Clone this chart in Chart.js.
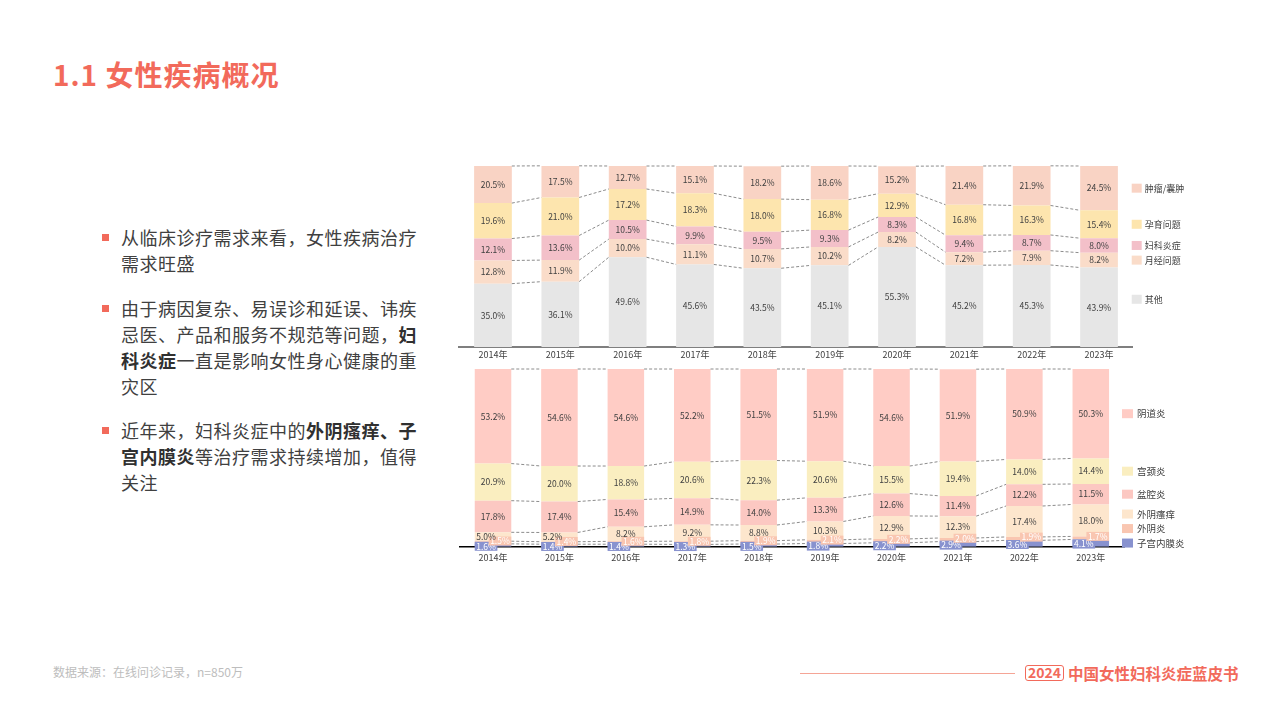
<!DOCTYPE html>
<html><head><meta charset="utf-8">
<script src="https://cdn.jsdelivr.net/npm/chart.js@4.4.1/dist/chart.umd.min.js"></script>
<style>
html,body{margin:0;padding:0;background:#fff;width:1280px;height:719px;overflow:hidden;font-family:"Noto Sans CJK SC","Noto Sans",sans-serif;}
.abs{position:absolute;}
.title{left:53px;top:56px;font-size:28px;font-weight:700;color:#F26A5B;line-height:36px;letter-spacing:1px;white-space:nowrap;}
.p{position:absolute;left:121px;font-size:18px;line-height:26px;letter-spacing:0.5px;color:#404040;white-space:nowrap;}
.p b{color:#303030;font-weight:700;}
.p::before{content:"";position:absolute;left:-19px;top:10px;width:6.5px;height:6.5px;background:#F26A5B;}
.src{left:53px;top:663px;font-size:12px;line-height:18px;color:#BDBDBD;}
.yr{left:1025px;top:665px;width:39px;height:16px;box-sizing:border-box;border:1.5px solid #F26A5B;border-radius:3px;font-size:14px;font-weight:700;line-height:13px;text-align:center;color:#F26A5B;}
.bk{left:1068px;top:663px;font-size:15.5px;font-weight:700;line-height:20px;color:#F26A5B;white-space:nowrap;}
canvas{position:absolute;}
</style>
</head>
<body>
<div class="abs title">1.1 女性疾病概况</div>

<div class="p" style="top:224px">从临床诊疗需求来看，女性疾病治疗<br>需求旺盛</div>
<div class="p" style="top:295px">由于病因复杂、易误诊和延误、讳疾<br>忌医、产品和服务不规范等问题，<b>妇</b><br><b>科炎症</b>一直是影响女性身心健康的重<br>灾区</div>
<div class="p" style="top:417px">近年来，妇科炎症中的<b>外阴瘙痒、子</b><br><b>宫内膜炎</b>等治疗需求持续增加，值得<br>关注</div>

<canvas id="top" width="750" height="206" style="left:450px;top:155px;width:750px;height:206px"></canvas>
<canvas id="bottom" width="750" height="206" style="left:450px;top:362px;width:750px;height:206px"></canvas>

<div class="abs src">数据来源：在线问诊记录，n=850万</div>
<div class="abs" style="left:800px;top:673px;width:215px;height:1px;background:#F5A596"></div>
<div class="abs yr">2024</div>
<div class="abs bk">中国女性妇科炎症蓝皮书</div>

<script>
const years = ['2014年','2015年','2016年','2017年','2018年','2019年','2020年','2021年','2022年','2023年'];

// Top chart (stack from bottom to top)
const others     = [35.0,36.1,49.6,45.6,43.5,45.1,55.3,45.2,45.3,43.9];
const menstrual  = [12.8,11.9,10.0,11.1,10.7,10.2, 8.2, 7.2, 7.9, 8.2];
const gynInflam  = [12.1,13.6,10.5, 9.9, 9.5, 9.3, 8.3, 9.4, 8.7, 8.0];
const fertility  = [19.6,21.0,17.2,18.3,18.0,16.8,12.9,16.8,16.3,15.4];
const tumor      = [20.5,17.5,12.7,15.1,18.2,18.6,15.2,21.4,21.9,24.5];

// Bottom chart (stack from bottom to top)
const endometritis = [1.6,1.4,1.4,1.3,1.5,1.8,2.2,2.9,3.6,4.1];
const vulvitis     = [1.5,1.4,1.6,1.8,1.9,2.1,2.2,2.0,1.9,1.7];
const pruritus     = [5.0,5.2,8.2,9.2,8.8,10.3,12.9,12.3,17.4,18.0];
const pelvic       = [17.8,17.4,15.4,14.9,14.0,13.3,12.6,11.4,12.2,11.5];
const cervicitis   = [20.9,20.0,18.8,20.6,22.3,20.6,15.5,19.4,14.0,14.4];
const vaginitis    = [53.2,54.6,54.6,52.2,51.5,51.9,54.6,51.9,50.9,50.3];

const FONT = '"Noto Sans CJK SC","Noto Sans",sans-serif';

const connectors = {
  id:'connectors',
  afterDatasetsDraw(chart){
    const ctx = chart.ctx;
    ctx.save();
    ctx.strokeStyle = '#6e6e6e';
    ctx.lineWidth = 0.8;
    ctx.setLineDash([3,2]);
    chart.data.datasets.forEach((ds,d)=>{
      const meta = chart.getDatasetMeta(d);
      for(let i=0;i<meta.data.length-1;i++){
        const a = meta.data[i], b = meta.data[i+1];
        ctx.beginPath();
        ctx.moveTo(a.x + a.width/2, a.y);
        ctx.lineTo(b.x - b.width/2, b.y);
        ctx.stroke();
      }
    });
    ctx.restore();
  }
};

const valueLabels = {
  id:'valueLabels',
  afterDatasetsDraw(chart){
    const ctx = chart.ctx;
    ctx.save();
    ctx.font = '8.5px ' + FONT;
    ctx.textBaseline = 'middle';
    chart.data.datasets.forEach((ds,d)=>{
      const meta = chart.getDatasetMeta(d);
      meta.data.forEach((bar,i)=>{
        const v = ds.data[i];
        const txt = v.toFixed(1) + '%';
        const cy = (bar.y + bar.base)/2;
        const left = bar.x - bar.width/2, right = bar.x + bar.width/2;
        const w = ctx.measureText(txt).width;
        const mode = ds.labelMode || 'center';
        if(mode === 'boxLeft'){
          ctx.fillStyle = ds.backgroundColor;
          ctx.fillRect(left, cy + 1 - 4.5, w + 3, 9);
          ctx.fillStyle = '#ffffff';
          ctx.textAlign = 'left';
          ctx.fillText(txt, left + 1.5, cy + 1);
        } else if(mode === 'boxRight'){
          ctx.fillStyle = ds.backgroundColor;
          ctx.fillRect(right - w - 3, cy - 1.5 - 4.5, w + 3, 9);
          ctx.fillStyle = '#ffffff';
          ctx.textAlign = 'right';
          ctx.fillText(txt, right - 1.5, cy - 1.5);
        } else if(v < 6){
          ctx.fillStyle = '#404040';
          ctx.textAlign = 'left';
          ctx.fillText(txt, left + 1.5, cy);
        } else {
          ctx.fillStyle = '#404040';
          ctx.textAlign = 'center';
          ctx.fillText(txt, bar.x, cy);
        }
      });
    });
    ctx.restore();
  }
};

const sideLegend = {
  id:'sideLegend',
  afterDraw(chart, args, opts){
    const ctx = chart.ctx;
    const area = chart.chartArea;
    const n = chart.data.datasets.length;
    let prev = Infinity;
    ctx.save();
    ctx.font = opts.fontSize + 'px ' + FONT;
    ctx.textBaseline = 'middle';
    ctx.textAlign = 'left';
    for(let d=0; d<n; d++){
      const ds = chart.data.datasets[d];
      const meta = chart.getDatasetMeta(d);
      const bar = meta.data[meta.data.length-1];
      let c = (bar.y + bar.base)/2;
      if(d === 0 && opts.baseLift) c -= opts.baseLift;
      c = Math.min(c, prev - opts.gap);
      prev = c;
      const bx = area.right + opts.dx;
      ctx.fillStyle = ds.backgroundColor;
      ctx.fillRect(bx, c - opts.boxH/2, opts.boxW, opts.boxH);
      ctx.fillStyle = '#404040';
      ctx.fillText(ds.label, bx + opts.boxW + opts.textGap, c);
    }
    ctx.restore();
  }
};

function makeChart(id, datasets, cfg){
  return new Chart(document.getElementById(id), {
    type:'bar',
    data:{labels:years, datasets},
    plugins:[connectors, valueLabels, sideLegend],
    options:{
      responsive:false,
      animation:false,
      devicePixelRatio:1,
      layout:{padding:cfg.padding},
      datasets:{bar:{barPercentage:cfg.barPct, categoryPercentage:1, borderWidth:0}},
      plugins:{
        legend:{display:false},
        tooltip:{enabled:false},
        sideLegend:cfg.legend
      },
      scales:{
        x:{
          stacked:true,
          grid:{display:false, drawTicks:false},
          border:{color:cfg.axisColor, width:cfg.axisWidth},
          ticks:{padding:cfg.tickPad, color:'#404040', font:{size:9, family:FONT}, maxRotation:0, autoSkip:false},
          afterFit(s){ s.height = cfg.axisH; }
        },
        y:{stacked:true, display:false, min:0, max:100}
      }
    }
  });
}

makeChart('top', [
  {label:'其他',     data:others,    backgroundColor:'#E6E6E6'},
  {label:'月经问题', data:menstrual, backgroundColor:'#FADCC9'},
  {label:'妇科炎症', data:gynInflam, backgroundColor:'#F3C0C9'},
  {label:'孕育问题', data:fertility, backgroundColor:'#FDE5AE'},
  {label:'肿瘤/囊肿', data:tumor,    backgroundColor:'#F9D3C4'}
], {
  padding:{left:9.3, right:67.3, top:11, bottom:0},
  barPct:0.56, axisColor:'#7f7f7f', axisWidth:2, tickPad:2, axisH:14,
  legend:{dx:-1, boxW:10, boxH:9, textGap:3, gap:14, fontSize:9, baseLift:8}
});

makeChart('bottom', [
  {label:'子宫内膜炎', data:endometritis, backgroundColor:'#8892CF', labelMode:'boxLeft'},
  {label:'外阴炎',     data:vulvitis,     backgroundColor:'#F9C6B1', labelMode:'boxRight'},
  {label:'外阴瘙痒',   data:pruritus,     backgroundColor:'#FDE6CD'},
  {label:'盆腔炎',     data:pelvic,       backgroundColor:'#FCC8C2'},
  {label:'宫颈炎',     data:cervicitis,   backgroundColor:'#FAEEC0'},
  {label:'阴道炎',     data:vaginitis,    backgroundColor:'#FFCCC5'}
], {
  padding:{left:9.8, right:76, top:7, bottom:3.3},
  barPct:0.55, axisColor:'#000000', axisWidth:1.5, tickPad:5, axisH:18,
  legend:{dx:-2, boxW:11, boxH:9, textGap:4, gap:14.5, fontSize:9.5}
});
</script>
</body></html>
